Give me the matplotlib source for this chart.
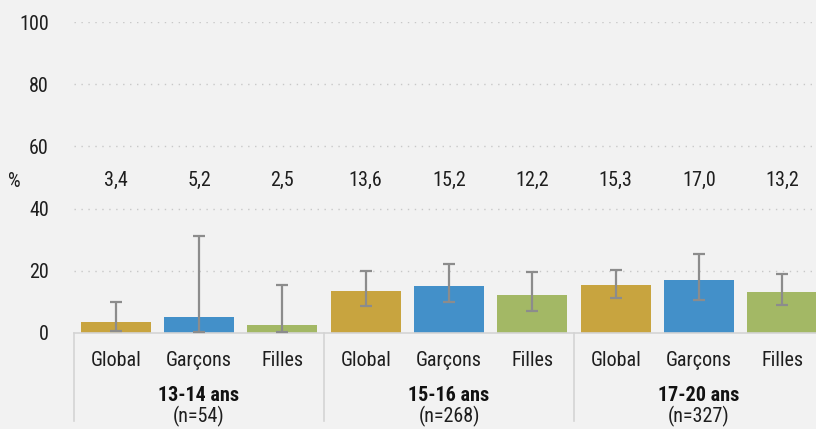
import matplotlib.pyplot as plt
from matplotlib.transforms import blended_transform_factory

plt.rcParams['font.family'] = ['Roboto Condensed', 'DejaVu Sans']

# Data
groups = ["13-14 ans", "15-16 ans", "17-20 ans"]
group_n = ["(n=54)", "(n=268)", "(n=327)"]
sexes = ["Global", "Garçons", "Filles"]
values = [3.4, 5.2, 2.5, 13.6, 15.2, 12.2, 15.3, 17.0, 13.2]
err_low = [0.7, 0.4, 0.3, 8.7, 10.1, 7.2, 11.2, 10.6, 9.0]
err_high = [10.1, 31.2, 15.3, 20.0, 22.1, 19.5, 20.3, 25.5, 18.9]

colors = ["#C8A43F", "#4390C9", "#A3B865"]
bg = "#F2F2F2"
fs = 14.5
tc = "#1E1E1E"

fig = plt.figure(figsize=(8.16, 4.29), dpi=100, facecolor=bg)
ax = fig.add_axes([74 / 816, 96 / 429, 750 / 816, 311 / 429], facecolor=bg)

xs = list(range(len(values)))
bar_colors = [colors[i % 3] for i in xs]
ax.bar(xs, values, width=0.84, color=bar_colors, zorder=2)
yerr = [[v - lo for v, lo in zip(values, err_low)],
        [hi - v for v, hi in zip(values, err_high)]]
ax.errorbar(xs, values, yerr=yerr, fmt="none", ecolor="#8C8C8C",
            elinewidth=1.6, capsize=4, capthick=1.6, zorder=3)

for x, v in zip(xs, values):
    ax.text(x, 49, f"{v:.1f}".replace(".", ","), ha="center", va="center",
            fontsize=fs, color=tc)
fig.text(14 / 816, 1 - 181 / 429, "%", ha="center", va="center",
         fontsize=fs, color=tc)

ax.set_xlim(-0.5, len(values) - 0.5)
ax.set_ylim(0, 100)
ax.set_yticks(range(0, 101, 20))
ax.set_xticks([])
ax.tick_params(axis="y", length=0, pad=18, labelsize=fs, labelcolor=tc)
for y in range(20, 101, 20):
    ax.axhline(y, color="#C8C8C8", linestyle=(0, (1, 4)), linewidth=1, zorder=1)

for s in ["top", "right", "left"]:
    ax.spines[s].set_visible(False)
ax.spines["bottom"].set_color("#D4D4D4")
ax.spines["bottom"].set_linewidth(1.2)

trans = blended_transform_factory(ax.transData, ax.transAxes)
for x in xs:
    ax.text(x, -0.088, sexes[x % 3], ha="center", va="center", fontsize=fs,
            color=tc, transform=trans)
for g in range(len(groups)):
    cx = g * 3 + 1
    ax.text(cx, -0.2, groups[g], ha="center", va="center", fontsize=fs,
            fontweight="bold", color="#111111", transform=trans)
    ax.text(cx, -0.268, group_n[g], ha="center", va="center", fontsize=fs,
            color=tc, transform=trans)
for g in range(len(groups) + 1):
    ax.plot([g * 3 - 0.5] * 2, [0, -0.283], color="#D4D4D4", linewidth=1.2,
            transform=trans, clip_on=False)

fig.savefig("out.png", dpi=100, facecolor=bg)
